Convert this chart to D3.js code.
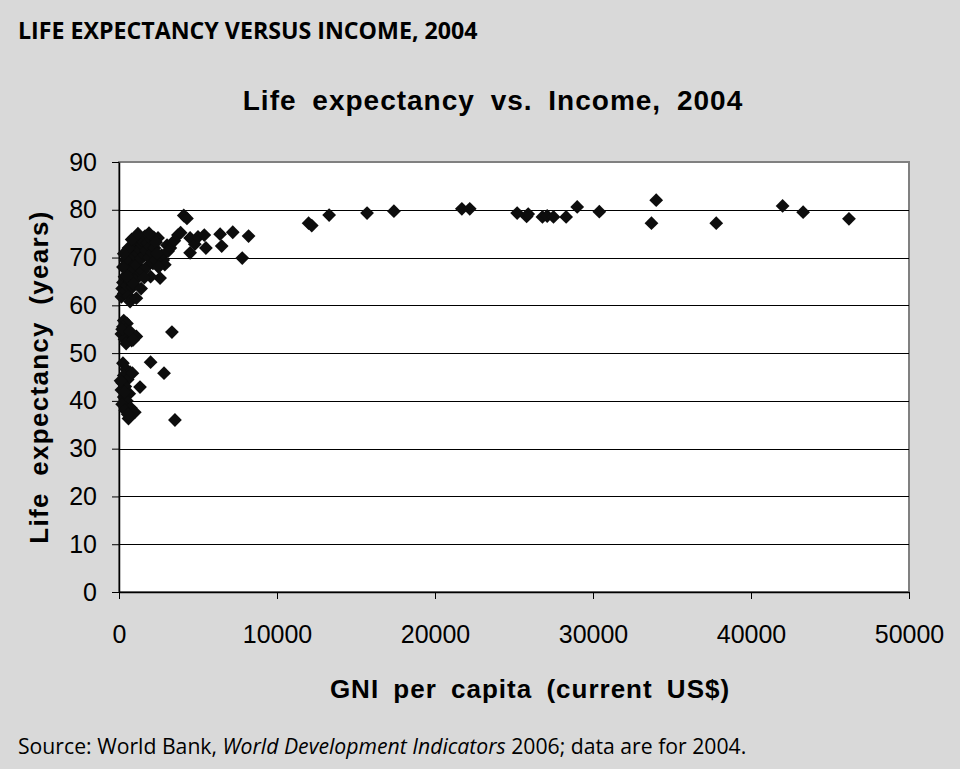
<!DOCTYPE html>
<html>
<head>
<meta charset="utf-8">
<script src="https://cdn.jsdelivr.net/npm/d3@7"></script>
<style>
  body { margin: 0; background: #d9d9d9; }
  svg { display: block; }
</style>
</head>
<body>
<div id="chart"></div>
<script>
// GNI per capita (current US$) and life expectancy (years)
var gni = [
  // high income
  12000, 12200, 13300, 15700, 17400, 21700, 22200, 25200, 25800, 25900, 26800,
  27100, 27500, 28300, 29000, 30400, 33700, 34000, 37800, 42000, 43300, 46200,
  // middle
  2470, 3040, 3250, 3500, 3730, 3900, 4100, 4300, 4500, 4500, 4800, 5000, 5400,
  5500, 6400, 6500, 7200, 7800, 8200, 2800, 2600, 2900, 2700, 3100,
  3350, 3540, 2850, 2000, 1330,
  // dense cluster 60-75
  150, 200, 250, 300, 350, 400, 450, 500, 550, 600, 650, 700, 750, 800, 850, 900,
  950, 1000, 1050, 1100, 1150, 1200, 1250, 1300, 1350, 1400, 1450, 1500, 1550,
  1600, 1650, 1700, 1750, 1800, 1850, 1900, 1950, 2000, 2050, 2100, 2150, 2200,
  2250, 2300, 2350, 2400, 1000, 600, 800, 1200, 700, 400, 300, 1600, 500, 250,
  900, 1400, 1900, 2500, 1100,
  // 52-57
  300, 500, 250, 400, 150, 600, 350, 800, 450, 200, 700, 1100, 900,
  // 36-48
  250, 450, 700, 300, 550, 200, 400, 150, 650, 300, 500, 200, 750, 400, 1000,
  600, 850, 350, 100, 550
];

var lifeExp = [
  77.2, 76.7, 78.9, 79.3, 79.7, 80.2, 80.2, 79.3, 78.6, 79.1, 78.5,
  78.7, 78.5, 78.5, 80.6, 79.6, 77.2, 82.0, 77.2, 80.8, 79.5, 78.1,
  74.1, 72.6, 72.0, 73.5, 74.7, 75.2, 78.8, 78.2, 74.1, 71.0, 72.8, 74.3, 74.7,
  72.0, 74.9, 72.4, 75.3, 69.9, 74.5, 69.5, 65.7, 68.5, 70.5, 71.3,
  54.4, 36.0, 45.8, 48.1, 42.9,
  61.8, 63.5, 64.8, 62.5, 66.0, 63.0, 67.5, 64.2, 68.8, 62.0, 70.0, 65.0, 66.8, 69.2, 63.8, 71.0,
  67.8, 70.3, 72.5, 68.5, 73.6, 70.8, 66.5, 71.8, 74.0, 69.8, 72.8, 67.2, 73.3,
  70.5, 74.5, 71.5, 68.0, 73.0, 74.8, 70.0, 72.3, 66.0, 73.8, 71.0, 68.8, 74.2,
  72.0, 69.5, 73.2, 70.8, 65.2, 72.0, 73.8, 75.0, 60.8, 69.5, 70.8, 65.8, 66.0, 68.0,
  64.5, 63.5, 75.1, 68.0, 61.5,
  56.8, 56.2, 55.5, 54.8, 54.0, 53.4, 52.9, 52.6, 52.0, 55.0, 54.5, 53.5, 52.8,
  47.9, 46.6, 46.0, 45.3, 44.5, 43.8, 43.0, 42.3, 41.5, 40.8, 40.0, 39.3, 38.5, 38.0, 37.6,
  36.3, 45.8, 41.8, 44.2, 37.2
];

var xTicks = [0, 10000, 20000, 30000, 40000, 50000];
var yTicks = [0, 10, 20, 30, 40, 50, 60, 70, 80, 90];

var svgWidth = 960;
var svgHeight = 769;

var svg = d3.select('#chart').append('svg')
    .attr('width', svgWidth)
    .attr('height', svgHeight);

svg.append('rect')
    .attr('width', svgWidth)
    .attr('height', svgHeight)
    .attr('fill', '#d9d9d9');

var x = d3.scaleLinear().domain([0, 50000]).range([119, 909]);
var y = d3.scaleLinear().domain([0, 90]).range([592, 162]);

// plot area
svg.append('rect')
    .attr('x', x(0))
    .attr('y', y(90))
    .attr('width', x(50000) - x(0))
    .attr('height', y(0) - y(90))
    .attr('fill', '#fff')
    .attr('stroke', '#808080')
    .attr('stroke-width', 2);

// gridlines
svg.append('g')
    .selectAll('line')
    .data(yTicks.filter(function(d) { return d > 0 && d < 90; }))
    .enter().append('line')
    .attr('x1', x(0))
    .attr('x2', x(50000))
    .attr('y1', function(d) { return Math.round(y(d)) + 0.5; })
    .attr('y2', function(d) { return Math.round(y(d)) + 0.5; })
    .attr('stroke', '#000')
    .attr('stroke-width', 1);

// axes
var yAxis = svg.append('g')
    .attr('transform', 'translate(' + x(0) + ',0)')
    .call(d3.axisLeft(y).tickValues(yTicks).tickSize(7).tickSizeOuter(0).tickPadding(15));

var xAxis = svg.append('g')
    .attr('transform', 'translate(0,' + y(0) + ')')
    .call(d3.axisBottom(x).tickValues(xTicks).tickFormat(d3.format('d')).tickSize(7).tickSizeOuter(0).tickPadding(26));

[yAxis, xAxis].forEach(function(a) {
    a.select('.domain').attr('stroke', '#000').attr('stroke-width', 1.5);
    a.selectAll('.tick line').attr('stroke', '#000');
    a.selectAll('text')
        .attr('fill', '#000')
        .style('font-family', '"Liberation Sans", Arial, sans-serif')
        .style('font-size', '25px');
});

// points
var points = gni.map(function(d, i) { return [d, lifeExp[i]]; });
var diamond = d3.symbol().type(d3.symbolSquare).size(95);

svg.append('g')
    .selectAll('path')
    .data(points)
    .enter().append('path')
    .attr('d', diamond)
    .attr('transform', function(d) {
        return 'translate(' + x(d[0]) + ',' + y(d[1]) + ') rotate(45)';
    })
    .attr('fill', '#0d0d0d');

// titles
svg.append('text')
    .attr('x', 18)
    .attr('y', 39)
    .style('font-family', '"Open Sans", sans-serif')
    .style('font-weight', 'bold')
    .style('font-size', '23.2px')
    .text('LIFE EXPECTANCY VERSUS INCOME, 2004');

svg.append('text')
    .attr('x', 493)
    .attr('y', 110)
    .attr('text-anchor', 'middle')
    .style('font-family', '"Liberation Sans", Arial, sans-serif')
    .style('font-weight', 'bold')
    .style('font-size', '28px')
    .style('letter-spacing', '1px')
    .style('word-spacing', '7px')
    .text('Life expectancy vs. Income, 2004');

svg.append('text')
    .attr('transform', 'translate(48,377) rotate(-90)')
    .attr('text-anchor', 'middle')
    .style('font-family', '"Liberation Sans", Arial, sans-serif')
    .style('font-weight', 'bold')
    .style('font-size', '26px')
    .style('letter-spacing', '1.3px')
    .style('word-spacing', '8px')
    .text('Life expectancy (years)');

svg.append('text')
    .attr('x', 530)
    .attr('y', 698)
    .attr('text-anchor', 'middle')
    .style('font-family', '"Liberation Sans", Arial, sans-serif')
    .style('font-weight', 'bold')
    .style('font-size', '26px')
    .style('letter-spacing', '1px')
    .style('word-spacing', '6px')
    .text('GNI per capita (current US$)');

// source note
var source = svg.append('text')
    .attr('x', 18)
    .attr('y', 754)
    .style('font-family', '"Open Sans", sans-serif')
    .style('font-size', '21.2px');
source.append('tspan').text('Source: World Bank, ');
source.append('tspan').style('font-style', 'italic').text('World Development Indicators');
source.append('tspan').text(' 2006; data are for 2004.');
</script>
</body>
</html>
